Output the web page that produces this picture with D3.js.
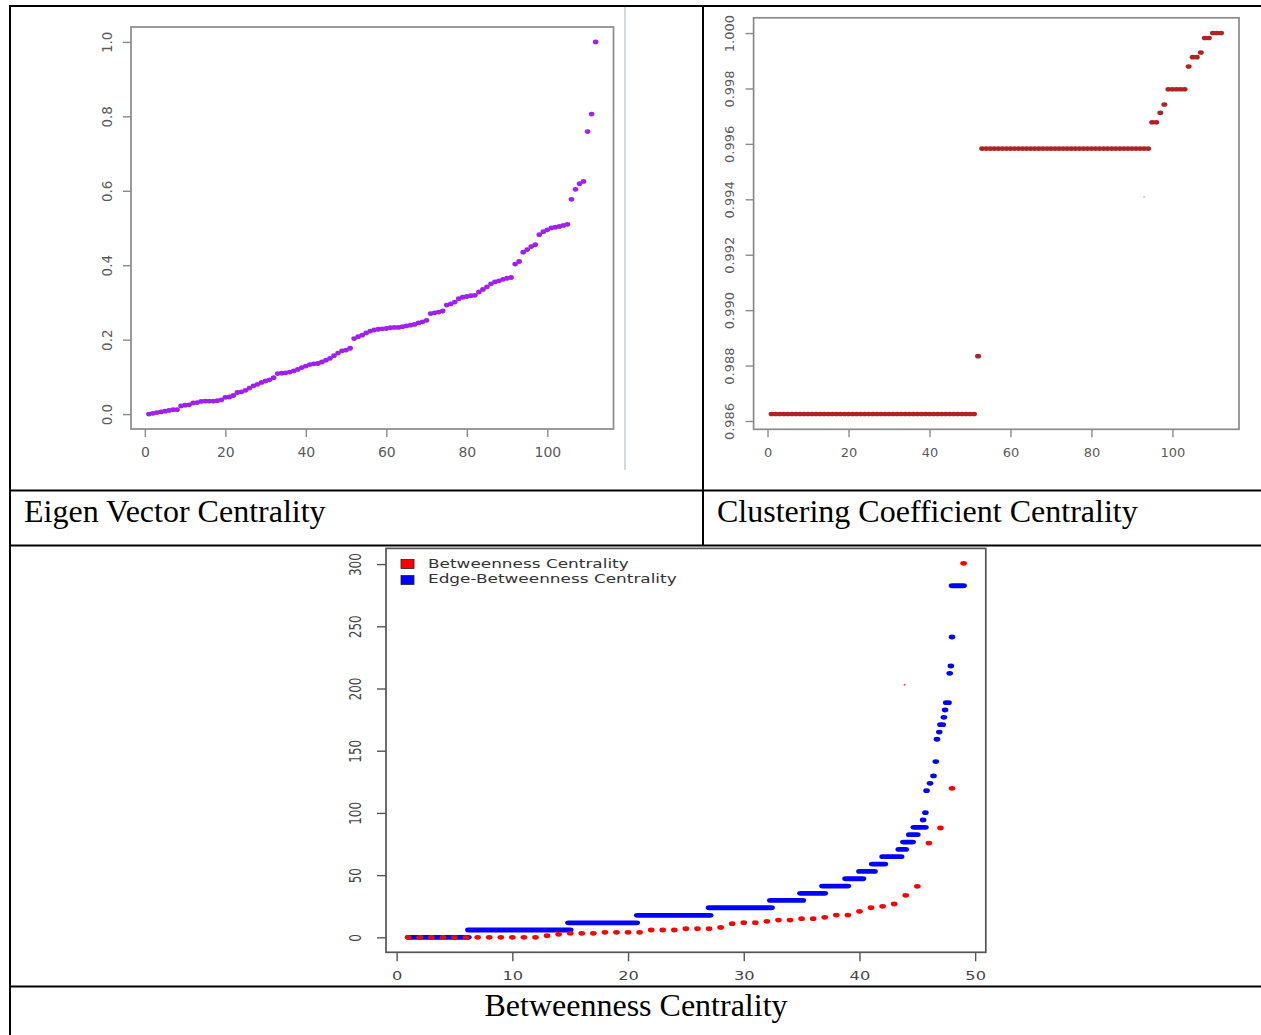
<!DOCTYPE html>
<html>
<head>
<meta charset="utf-8">
<script src="https://cdn.jsdelivr.net/npm/d3@7"></script>
<style>
body { margin: 0; background: #fff; }
svg { display: block; }
.caption { font-family: "Liberation Serif", "Times New Roman", serif; font-size: 32px; fill: #000; }
</style>
</head>
<body>
<svg id="page" width="1261" height="1035"></svg>
<script>
// Eigen vector centrality, sorted, node 1..112
const eigenValues = [
    0.000, 0.002, 0.004, 0.006, 0.008, 0.010, 0.012, 0.012, 0.022, 0.024,
    0.025, 0.030, 0.031, 0.034, 0.035, 0.035, 0.035, 0.036, 0.038, 0.045,
    0.046, 0.050, 0.058, 0.060, 0.064, 0.070, 0.076, 0.080, 0.085, 0.089,
    0.092, 0.098, 0.109, 0.110, 0.111, 0.113, 0.116, 0.120, 0.125, 0.129,
    0.133, 0.135, 0.136, 0.140, 0.145, 0.150, 0.157, 0.164, 0.170, 0.172,
    0.177, 0.203, 0.208, 0.212, 0.218, 0.223, 0.226, 0.228, 0.229, 0.230,
    0.232, 0.233, 0.233, 0.235, 0.237, 0.239, 0.241, 0.245, 0.248, 0.252,
    0.270, 0.272, 0.274, 0.277, 0.293, 0.296, 0.301, 0.310, 0.314, 0.316,
    0.318, 0.319, 0.328, 0.335, 0.342, 0.350, 0.355, 0.358, 0.362, 0.365,
    0.367, 0.403, 0.410, 0.435, 0.442, 0.450, 0.455, 0.482, 0.490, 0.495,
    0.500, 0.502, 0.504, 0.507, 0.510, 0.577, 0.604, 0.619, 0.625, 0.759,
    0.806, 1.000
];

// Clustering coefficient, sorted, node 1..112
const clusterValues = [
    0.98625, 0.98625, 0.98625, 0.98625, 0.98625, 0.98625, 0.98625, 0.98625, 0.98625, 0.98625,
    0.98625, 0.98625, 0.98625, 0.98625, 0.98625, 0.98625, 0.98625, 0.98625, 0.98625, 0.98625,
    0.98625, 0.98625, 0.98625, 0.98625, 0.98625, 0.98625, 0.98625, 0.98625, 0.98625, 0.98625,
    0.98625, 0.98625, 0.98625, 0.98625, 0.98625, 0.98625, 0.98625, 0.98625, 0.98625, 0.98625,
    0.98625, 0.98625, 0.98625, 0.98625, 0.98625, 0.98625, 0.98625, 0.98625, 0.98625, 0.98625,
    0.98625, 0.98834, 0.99583, 0.99583, 0.99583, 0.99583, 0.99583, 0.99583, 0.99583, 0.99583,
    0.99583, 0.99583, 0.99583, 0.99583, 0.99583, 0.99583, 0.99583, 0.99583, 0.99583, 0.99583,
    0.99583, 0.99583, 0.99583, 0.99583, 0.99583, 0.99583, 0.99583, 0.99583, 0.99583, 0.99583,
    0.99583, 0.99583, 0.99583, 0.99583, 0.99583, 0.99583, 0.99583, 0.99583, 0.99583, 0.99583,
    0.99583, 0.99583, 0.99583, 0.99583, 0.99678, 0.99678, 0.99712, 0.99742, 0.99797, 0.99797,
    0.99797, 0.99797, 0.99797, 0.99879, 0.99913, 0.99913, 0.99930, 0.99982, 0.99982, 1.00000,
    1.00000, 1.00000
];
// faint speck in the clustering plot [x, value]
const clusterStray = [[93, 0.99408]];

// Betweenness centrality, sorted, node 1..49
const betweenValues = [
    0, 0, 0, 0, 0, 0, 0, 0, 0, 0,
    0, 0, 1.3, 2.4, 3.2, 3.2, 3.2, 4.0, 4.0, 4.0,
    4.0, 5.9, 5.9, 5.9, 6.9, 6.9, 6.9, 8.0, 11.0, 11.8,
    11.8, 12.9, 13.9, 13.9, 15.0, 15.0, 16.1, 17.9, 17.9, 20.9,
    23.8, 24.9, 26.8, 33.8, 41.0, 75.8, 87.9, 119.8, 300.6
];
// Edge-betweenness, drawn as runs of overlapping dots: [x from, x to, value]
const edgeRuns = [
    [1.0, 6.2, 0], [6.2, 15.0, 5.9], [14.85, 20.75, 11.7], [20.8, 27.1, 17.7],
    [27.0, 32.4, 23.8], [32.3, 35.1, 29.7], [34.9, 37.0, 35.4], [36.8, 39.0, 41.2],
    [38.8, 40.3, 47.1], [40.0, 41.3, 53.0], [41.1, 42.2, 58.9], [42.0, 43.6, 64.8],
    [43.4, 44.0, 70.7], [43.8, 44.6, 76.6], [44.3, 45.0, 82.5], [44.7, 45.7, 88.4],
    [45.5, 45.5, 94.3], [45.7, 45.7, 100.2], [45.8, 45.8, 117.9], [46.1, 46.1, 123.8],
    [46.4, 46.4, 129.7], [46.6, 46.6, 141.3], [46.7, 46.7, 159.2], [46.9, 46.9, 165.0],
    [47.0, 47.2, 170.9], [47.3, 47.3, 176.8], [47.4, 47.4, 182.7], [47.5, 47.7, 188.6],
    [47.8, 47.8, 212.2], [47.9, 47.9, 218.1], [48.0, 48.0, 241.4], [48.0, 49.0, 282.6]
];
const betweenStray = [[43.9, 203]];

// tick labels
const eigenXTicks = [0, 20, 40, 60, 80, 100];
const eigenYTicks = [0, 0.2, 0.4, 0.6, 0.8, 1.0];
const clusterXTicks = [0, 20, 40, 60, 80, 100];
const clusterYTicks = [0.986, 0.988, 0.990, 0.992, 0.994, 0.996, 0.998, 1.000];
const betweenXTicks = [0, 10, 20, 30, 40, 50];
const betweenYTicks = [0, 50, 100, 150, 200, 250, 300];
const legendLabels = ['Betweenness Centrality', 'Edge-Betweenness Centrality'];
const captions = ['Eigen Vector Centrality', 'Clustering Coefficient Centrality', 'Betweenness Centrality'];

let svg = d3.select('#page');

drawTable(svg);

// Eigen vector plot
let eig = makePanel(svg, {
    xlim: [-3.44, 116.44], ylim: [-0.04, 1.04],
    box: [131, 27, 613.5, 429],
    xTicks: eigenXTicks, yTicks: eigenYTicks, yFormat: d3.format('.1f'),
    font: 14, yFont: 13.5, sx: 1, xOff: 23, yOff: 24, tick: 8,
    boxColor: '#8a8a8a', textColor: '#5a5a5a'
});
eig.g.append('g').selectAll('ellipse')
    .data(eigenValues)
    .enter()
    .append('ellipse')
    .attr('cx', (d, i) => eig.x(i + 1))
    .attr('cy', d => eig.y(d))
    .attr('rx', 2.8).attr('ry', 2.4)
    .attr('fill', '#a020f0');

// Clustering coefficient plot
let clu = makePanel(svg, {
    xlim: [-3.44, 116.44], ylim: [0.9857, 1.00055],
    box: [753.6, 17.8, 1239, 429.3],
    xTicks: clusterXTicks, yTicks: clusterYTicks, yFormat: d3.format('.3f'),
    font: 13, yFont: 13, sx: 1, xOff: 23, yOff: 24.5, tick: 8,
    boxColor: '#8a8a8a', textColor: '#5a5a5a'
});
clu.g.append('g').selectAll('ellipse')
    .data(clusterValues)
    .enter()
    .append('ellipse')
    .attr('cx', (d, i) => clu.x(i + 1))
    .attr('cy', d => clu.y(d))
    .attr('rx', 3).attr('ry', 2.3)
    .attr('fill', '#b22222');
clu.g.selectAll('.stray')
    .data(clusterStray)
    .enter()
    .append('circle')
    .attr('class', 'stray')
    .attr('cx', d => clu.x(d[0]))
    .attr('cy', d => clu.y(d[1]))
    .attr('r', 0.9)
    .attr('fill', '#e0a0a0');

// Betweenness plot
let bet = makePanel(svg, {
    xlim: [-0.92, 50.92], ylim: [-12.02, 312.6],
    box: [386, 548.4, 985.8, 952.3],
    xTicks: betweenXTicks, yTicks: betweenYTicks, yFormat: d3.format('d'),
    font: 12.5, yFont: 12, sx: 1.3, xOff: 23, yOff: 31, tick: 9,
    boxColor: '#555', textColor: '#444'
});
// blue runs first, red dots on top
bet.g.append('g').selectAll('rect')
    .data(edgeRuns)
    .enter()
    .append('rect')
    .attr('x', d => bet.x(d[0]) - 3.3)
    .attr('y', d => bet.y(d[2]) - 2.4)
    .attr('width', d => bet.x(d[1]) - bet.x(d[0]) + 6.6)
    .attr('height', 4.8)
    .attr('rx', 3.3).attr('ry', 2.4)
    .attr('fill', '#0000ff');
bet.g.append('g').selectAll('ellipse')
    .data(betweenValues)
    .enter()
    .append('ellipse')
    .attr('cx', (d, i) => bet.x(i + 1))
    .attr('cy', d => bet.y(d))
    .attr('rx', 3.3).attr('ry', 2.4)
    .attr('fill', '#ff0000');
bet.g.selectAll('.stray')
    .data(betweenStray)
    .enter()
    .append('circle')
    .attr('class', 'stray')
    .attr('cx', d => bet.x(d[0]))
    .attr('cy', d => bet.y(d[1]))
    .attr('r', 1)
    .attr('fill', '#ff4040');

// legend
let legend = svg.append('g').attr('class', 'legend');
legend.selectAll('rect')
    .data(legendLabels)
    .enter()
    .append('rect')
    .attr('x', 401)
    .attr('y', (d, i) => 559.5 + i * 16)
    .attr('width', 13).attr('height', 9)
    .attr('fill', (d, i) => i == 0 ? '#ff0000' : '#0000ff')
    .attr('stroke', '#222').attr('stroke-width', 0.8);
legend.selectAll('text')
    .data(legendLabels)
    .enter()
    .append('text')
    .attr('x', 428 / 1.3)
    .attr('y', (d, i) => 563.5 + i * 15.5)
    .attr('transform', 'scale(1.3,1)')
    .attr('dominant-baseline', 'central')
    .attr('font-family', 'DejaVu Sans, sans-serif')
    .attr('font-size', 13)
    .attr('fill', '#333')
    .text(d => d);

// Builds the frame, scales and axes of one R-style plot
function makePanel(svg, o) {
    let g = svg.append('g');
    let x = d3.scaleLinear().domain(o.xlim).range([o.box[0], o.box[2]]);
    let y = d3.scaleLinear().domain(o.ylim).range([o.box[3], o.box[1]]);

    g.append('rect')
        .attr('x', o.box[0]).attr('y', o.box[1])
        .attr('width', o.box[2] - o.box[0])
        .attr('height', o.box[3] - o.box[1])
        .attr('fill', 'none')
        .attr('stroke', o.boxColor)
        .attr('stroke-width', 1.7);

    let gx = g.append('g')
        .attr('transform', `translate(0,${o.box[3]})`)
        .call(d3.axisBottom(x).tickValues(o.xTicks).tickSize(o.tick).tickFormat(d3.format('d')));
    let gy = g.append('g')
        .attr('transform', `translate(${o.box[0]},0)`)
        .call(d3.axisLeft(y).tickValues(o.yTicks).tickSize(o.tick).tickFormat(o.yFormat));

    [gx, gy].forEach(a => {
        a.select('.domain').remove();
        a.attr('font-family', 'DejaVu Sans, sans-serif');
        a.selectAll('line').attr('stroke', o.boxColor).attr('stroke-width', 1.4);
        a.selectAll('text').attr('fill', o.textColor).attr('dy', 0)
            .attr('dominant-baseline', 'central');
    });
    gx.attr('font-size', o.font);
    gy.attr('font-size', o.yFont);
    gx.selectAll('text')
        .attr('y', o.xOff)
        .attr('transform', `scale(${o.sx},1)`);
    gy.selectAll('text')
        .attr('x', 0)
        .attr('text-anchor', 'middle')
        .attr('transform', `scale(${o.sx},1) translate(${-o.yOff / o.sx},0) rotate(-90)`);

    return {g: g, x: x, y: y};
}

// Table rules and captions around the three plots
function drawTable(svg) {
    let rules = [
        [10, 6, 1261, 6], [10, 5, 10, 1035], [703, 6, 703, 545],
        [10, 490.5, 1261, 490.5], [10, 545.5, 1261, 545.5], [10, 986.5, 1261, 986.5]
    ];
    svg.append('g').selectAll('line')
        .data(rules)
        .enter()
        .append('line')
        .attr('x1', d => d[0]).attr('y1', d => d[1])
        .attr('x2', d => d[2]).attr('y2', d => d[3])
        .attr('stroke', '#000')
        .attr('stroke-width', 2);
    // edge of the pasted eigen image
    svg.append('line')
        .attr('x1', 625).attr('y1', 7).attr('x2', 625).attr('y2', 470)
        .attr('stroke', '#b4c0cc').attr('stroke-width', 1.2);

    svg.append('text').attr('class', 'caption').attr('x', 24).attr('y', 522).text(captions[0]);
    svg.append('text').attr('class', 'caption').attr('x', 717).attr('y', 522).text(captions[1]);
    svg.append('text').attr('class', 'caption').attr('x', 636).attr('y', 1016)
        .attr('text-anchor', 'middle').text(captions[2]);
}
</script>
</body>
</html>
